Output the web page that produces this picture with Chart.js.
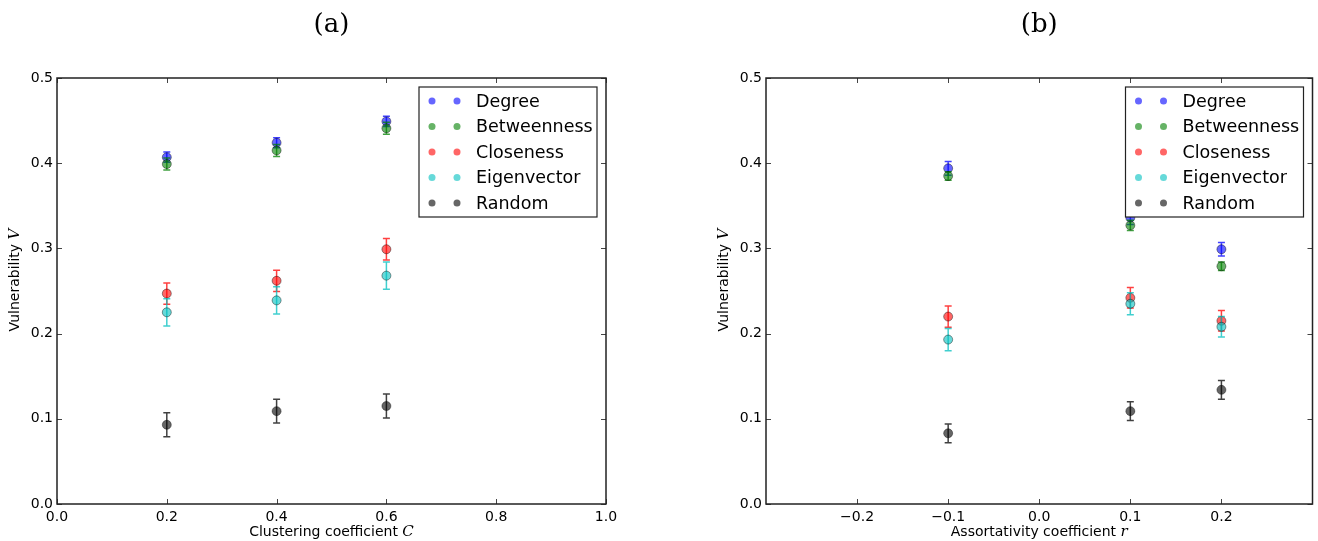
<!DOCTYPE html>
<html>
<head>
<meta charset="utf-8">
<script src="https://cdn.jsdelivr.net/npm/chart.js@4.4.1/dist/chart.umd.min.js"></script>
<style>
  html, body { margin: 0; padding: 0; background: #fff; }
  #wrap { position: relative; width: 1318px; height: 541px; }
  .panel { position: absolute; top: 0; width: 659px; height: 541px; }
</style>
</head>
<body>
<div id="wrap">
  <div class="panel" style="left:0"><canvas id="chartA"></canvas></div>
  <div class="panel" style="left:659px"><canvas id="chartB"></canvas></div>
</div>
<script>
// Séries e cores (estilo matplotlib: b, g, r, c, k)
const seriesNames = ['Degree', 'Betweenness', 'Closeness', 'Eigenvector', 'Random'];
const seriesRGB = [[0, 0, 255], [0, 128, 0], [255, 0, 0], [0, 191, 191], [0, 0, 0]];

// Painel (a) - coeficiente de clustering
const clusteringC = [0.2, 0.4, 0.6];
const degreeA      = [0.407, 0.424, 0.449];
const degreeAErr   = [0.006, 0.006, 0.006];
const betweenA     = [0.399, 0.415, 0.441];
const betweenAErr  = [0.007, 0.007, 0.007];
const closeA       = [0.247, 0.262, 0.299];
const closeAErr    = [0.0125, 0.0125, 0.0125];
const eigenA       = [0.225, 0.239, 0.268];
const eigenAErr    = [0.016, 0.016, 0.016];
const randomA      = [0.093, 0.109, 0.115];
const randomAErr   = [0.014, 0.014, 0.014];

// Painel (b) - coeficiente de assortatividade
const assortR = [-0.1, 0.1, 0.2];
const degreeB      = [0.394, 0.336, 0.299];
const degreeBErr   = [0.008, 0.008, 0.008];
const betweenB     = [0.385, 0.327, 0.279];
const betweenBErr  = [0.005, 0.006, 0.005];
const closeB       = [0.220, 0.242, 0.215];
const closeBErr    = [0.0125, 0.012, 0.012];
const eigenB       = [0.193, 0.235, 0.208];
const eigenBErr    = [0.013, 0.013, 0.012];
const randomB      = [0.083, 0.109, 0.134];
const randomBErr   = [0.011, 0.011, 0.011];

// Ticks dos eixos
const yTicks  = [0, 0.1, 0.2, 0.3, 0.4, 0.5];
const xTicksA = [0, 0.2, 0.4, 0.6, 0.8, 1.0];
const xTicksB = [-0.2, -0.1, 0, 0.1, 0.2];

const rgba = (c, a) => `rgba(${c[0]},${c[1]},${c[2]},${a})`;
const sansFont = "'DejaVu Sans', sans-serif";
const serifFont = "'DejaVu Serif', 'Liberation Serif', serif";

// Barras de erro: desenhadas logo antes de cada dataset, para o marcador ficar por cima
const errorBars = {
    id: 'errorBars',
    beforeDatasetDraw(chart, args) {
        const ds = chart.data.datasets[args.index];
        if (!ds.errors) return;
        const ctx = chart.ctx;
        const xs = chart.scales.x, ys = chart.scales.y;
        ctx.save();
        ctx.strokeStyle = ds.errColor;
        ctx.lineWidth = 1.5;
        ds.data.forEach((p, i) => {
            const x = xs.getPixelForValue(p.x);
            const y1 = ys.getPixelForValue(p.y + ds.errors[i]);
            const y2 = ys.getPixelForValue(p.y - ds.errors[i]);
            ctx.beginPath();
            ctx.moveTo(x, y1); ctx.lineTo(x, y2);
            ctx.moveTo(x - 3.5, y1); ctx.lineTo(x + 3.5, y1);
            ctx.moveTo(x - 3.5, y2); ctx.lineTo(x + 3.5, y2);
            ctx.stroke();
        });
        ctx.restore();
    }
};

// Moldura, ticks internos, títulos e legenda
const panelDecor = {
    id: 'panelDecor',
    afterDraw(chart, args, opts) {
        const ctx = chart.ctx;
        const a = chart.chartArea;
        const xs = chart.scales.x, ys = chart.scales.y;
        ctx.save();

        // ticks para dentro nos quatro lados
        ctx.strokeStyle = '#444';
        ctx.lineWidth = 1;
        ctx.beginPath();
        xs.ticks.forEach(t => {
            const x = Math.round(xs.getPixelForValue(t.value)) + 0.5;
            ctx.moveTo(x, a.bottom); ctx.lineTo(x, a.bottom - 5);
            ctx.moveTo(x, a.top); ctx.lineTo(x, a.top + 5);
        });
        ys.ticks.forEach(t => {
            const y = Math.round(ys.getPixelForValue(t.value)) + 0.5;
            ctx.moveTo(a.left, y); ctx.lineTo(a.left + 5, y);
            ctx.moveTo(a.right, y); ctx.lineTo(a.right - 5, y);
        });
        ctx.stroke();

        // moldura
        ctx.strokeStyle = '#222';
        ctx.lineWidth = 1.5;
        ctx.strokeRect(a.left, a.top, a.right - a.left, a.bottom - a.top);

        // título do painel
        ctx.fillStyle = '#000';
        ctx.textAlign = 'center';
        ctx.textBaseline = 'middle';
        ctx.font = `26px ${serifFont}`;
        ctx.fillText(opts.title, (a.left + a.right) / 2, 25);

        // título do eixo x (texto + variável em itálico)
        drawMixed(ctx, opts.xLabel, opts.xVar, (a.left + a.right) / 2, 532);

        // título do eixo y, rotacionado
        ctx.save();
        ctx.translate(a.left - 42, 280);
        ctx.rotate(-Math.PI / 2);
        drawMixed(ctx, 'Vulnerability ', 'V', 0, 0);
        ctx.restore();

        // legenda
        const boxW = 178, boxH = 130;
        const bx = a.right - 9 - boxW, by = a.top + 9;
        ctx.fillStyle = '#fff';
        ctx.fillRect(bx, by, boxW, boxH);
        ctx.strokeStyle = '#222';
        ctx.lineWidth = 1.2;
        ctx.strokeRect(bx, by, boxW, boxH);
        ctx.font = `17.5px ${sansFont}`;
        ctx.textAlign = 'left';
        chart.data.datasets.forEach((ds, i) => {
            const y = by + 14 + i * 25.5;
            [13, 38].forEach(dx => {
                ctx.beginPath();
                ctx.arc(bx + dx, y, 3.5, 0, Math.PI * 2);
                ctx.fillStyle = ds.backgroundColor;
                ctx.fill();
            });
            ctx.fillStyle = '#000';
            ctx.fillText(ds.label, bx + 57, y + 1);
        });
        ctx.restore();
    }
};

function drawMixed(ctx, text, variable, cx, cy) {
    ctx.font = `14px ${sansFont}`;
    const w1 = ctx.measureText(text).width;
    ctx.font = `italic 15px ${serifFont}`;
    const w2 = ctx.measureText(variable).width;
    const x0 = cx - (w1 + w2) / 2;
    ctx.fillStyle = '#000';
    ctx.textAlign = 'left';
    ctx.textBaseline = 'middle';
    ctx.font = `14px ${sansFont}`;
    ctx.fillText(text, x0, cy);
    ctx.font = `italic 15px ${serifFont}`;
    ctx.fillText(variable, x0 + w1, cy);
}

function buildDatasets(xs, values, errs) {
    return values.map((vals, s) => ({
        label: seriesNames[s],
        data: vals.map((v, i) => ({ x: xs[i], y: v })),
        errors: errs[s],
        errColor: rgba(seriesRGB[s], 0.75),
        backgroundColor: rgba(seriesRGB[s], 0.6),
        borderColor: 'rgba(0,0,0,0.4)',
        borderWidth: 1,
        pointRadius: 4.5,
        pointHoverRadius: 4.5,
        order: values.length - s   // o primeiro fica por baixo
    }));
}

const fmtTick = v => {
    if (Math.abs(v) < 1e-9) return '0.0';
    return (v < 0 ? '\u2212' : '') + Math.abs(v).toFixed(1);
};

function createPanel(id, datasets, xMin, xMax, xTicks, padLeft, padRight, decor) {
    const tickFont = { family: sansFont, size: 14 };
    return new Chart(document.getElementById(id), {
        type: 'scatter',
        data: { datasets },
        options: {
            responsive: true,
            maintainAspectRatio: false,
            animation: false,
            events: [],
            layout: { padding: { left: padLeft, right: padRight, top: 78, bottom: 0 } },
            plugins: { legend: { display: false }, tooltip: { enabled: false }, panelDecor: decor },
            scales: {
                x: {
                    type: 'linear', min: xMin, max: xMax,
                    grid: { display: false, drawTicks: false },
                    border: { display: false },
                    afterBuildTicks: s => { s.ticks = xTicks.map(v => ({ value: v })); },
                    afterFit: s => { s.height = 37; },
                    ticks: { color: '#000', font: tickFont, padding: 5, autoSkip: false, maxRotation: 0, callback: fmtTick }
                },
                y: {
                    type: 'linear', min: 0, max: 0.5,
                    grid: { display: false, drawTicks: false },
                    border: { display: false },
                    afterBuildTicks: s => { s.ticks = yTicks.map(v => ({ value: v })); },
                    afterFit: s => { s.width = 57; },
                    ticks: { color: '#000', font: tickFont, padding: 4, autoSkip: false, callback: fmtTick }
                }
            }
        },
        plugins: [errorBars, panelDecor]
    });
}

createPanel('chartA',
    buildDatasets(clusteringC,
        [degreeA, betweenA, closeA, eigenA, randomA],
        [degreeAErr, betweenAErr, closeAErr, eigenAErr, randomAErr]),
    0, 1, xTicksA, 0, 53,
    { title: '(a)', xLabel: 'Clustering coefficient ', xVar: 'C' });

createPanel('chartB',
    buildDatasets(assortR,
        [degreeB, betweenB, closeB, eigenB, randomB],
        [degreeBErr, betweenBErr, closeBErr, eigenBErr, randomBErr]),
    -0.3, 0.3, xTicksB, 50, 3,
    { title: '(b)', xLabel: 'Assortativity coefficient ', xVar: 'r' });
</script>
</body>
</html>
